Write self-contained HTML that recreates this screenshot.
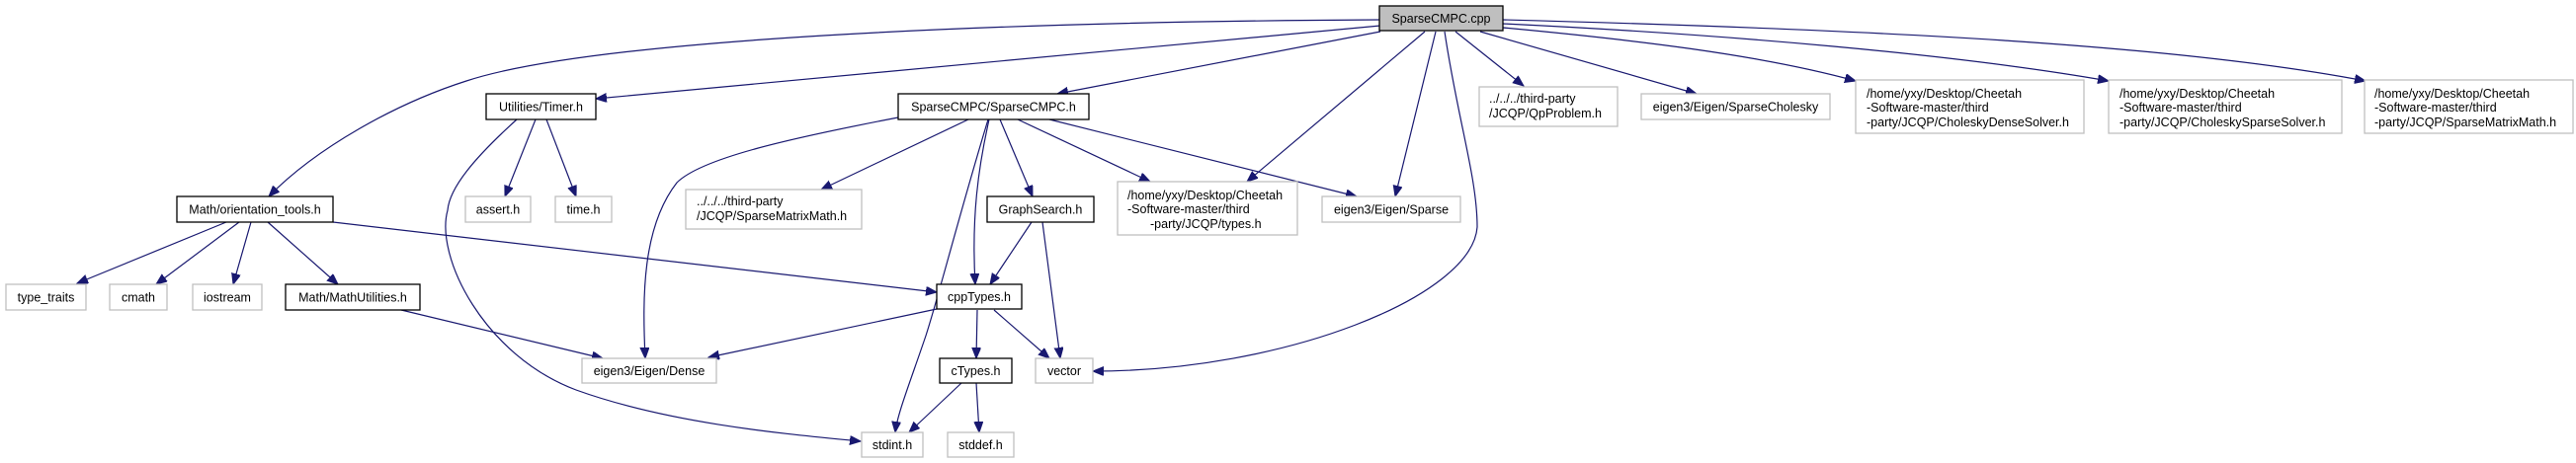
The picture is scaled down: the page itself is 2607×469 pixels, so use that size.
<!DOCTYPE html>
<html><head><meta charset="utf-8"><style>
html,body{margin:0;padding:0;background:#fff;}
svg{display:block;}
text{font-family:"Liberation Sans",sans-serif;font-size:12.5px;fill:#000;}
.g{fill:#fff;stroke:#bfbfbf;stroke-width:1.3;}
.b{fill:#fff;stroke:#000;stroke-width:1.3;}
.e{fill:none;stroke:#191970;stroke-width:1.2;}
</style></head><body>
<svg width="2607" height="469" viewBox="0 0 2607 469" xmlns="http://www.w3.org/2000/svg">
<defs><marker id="a" markerUnits="userSpaceOnUse" markerWidth="12" markerHeight="10" refX="11" refY="4.5" orient="auto"><path d="M0,0 L11,4.5 L0,9 Z" fill="#191970" stroke="#191970"/></marker></defs>
<g marker-end="url(#a)">
<path class="e" d="M1397,20 C1000,22 600,40 472,82 C400,105 320,150 272,199"/>
<path class="e" d="M1397,26 L603,100"/>
<path class="e" d="M1397,32 L1070,95"/>
<path class="e" d="M1442,32 L1262,184"/>
<path class="e" d="M1453,32 L1412,199"/>
<path class="e" d="M1462,32 C1475,120 1495,180 1495,230 C1490,300 1300,376 1106,376"/>
<path class="e" d="M1473,32 L1542,87"/>
<path class="e" d="M1498,32 L1717,95"/>
<path class="e" d="M1521,28 C1650,40 1780,55 1878,82"/>
<path class="e" d="M1521,24 C1750,35 1980,55 2134,82"/>
<path class="e" d="M1521,20 C1900,30 2200,45 2394,82"/>
<path class="e" d="M909,119 C800,140 710,160 685,185 C650,230 650,300 653,363"/>
<path class="e" d="M980,121 L831,192"/>
<path class="e" d="M1000,121 C970,220 950,300 937,340 C920,390 908,420 906,438"/>
<path class="e" d="M1001,121 C990,170 983,220 987,288"/>
<path class="e" d="M1012,121 L1045,199"/>
<path class="e" d="M1030,121 L1164,184"/>
<path class="e" d="M1062,121 L1373,199"/>
<path class="e" d="M1044,225 L1002,288"/>
<path class="e" d="M1055,225 L1073,363"/>
<path class="e" d="M948,313 L717,362"/>
<path class="e" d="M989,314 L988,363"/>
<path class="e" d="M1006,314 L1062,363"/>
<path class="e" d="M973,388 L920,438"/>
<path class="e" d="M988,388 L991,438"/>
<path class="e" d="M542,121 L511,199"/>
<path class="e" d="M553,121 L583,199"/>
<path class="e" d="M523,121 C480,160 455,190 453,213 C440,260 490,360 583,395 C680,430 800,440 871,447"/>
<path class="e" d="M229,225 L78,287"/>
<path class="e" d="M242,225 L158,288"/>
<path class="e" d="M254,225 L236,288"/>
<path class="e" d="M271,225 L342,288"/>
<path class="e" d="M337,225 L948,296"/>
<path class="e" d="M406,314 L610,363"/>
</g>
<rect x="1396" y="6" width="125" height="25" fill="#bfbfbf" stroke="#000" stroke-width="1.3"/>
<text x="1458.5" y="23" text-anchor="middle">SparseCMPC.cpp</text>
<rect class="b" x="492" y="95" width="111" height="26"/><text x="547.5" y="112.5" text-anchor="middle">Utilities/Timer.h</text>
<rect class="b" x="179" y="199" width="158" height="26"/><text x="258" y="216.5" text-anchor="middle">Math/orientation_tools.h</text>
<rect class="g" x="6" y="288" width="81" height="26"/><text x="46.5" y="305.5" text-anchor="middle">type_traits</text>
<rect class="g" x="111" y="288" width="58" height="26"/><text x="140" y="305.5" text-anchor="middle">cmath</text>
<rect class="g" x="195" y="288" width="70" height="26"/><text x="230" y="305.5" text-anchor="middle">iostream</text>
<rect class="b" x="289" y="288" width="136" height="26"/><text x="357" y="305.5" text-anchor="middle">Math/MathUtilities.h</text>
<rect class="g" x="471" y="199" width="66" height="26"/><text x="504" y="216.5" text-anchor="middle">assert.h</text>
<rect class="g" x="562" y="199" width="57" height="26"/><text x="590.5" y="216.5" text-anchor="middle">time.h</text>
<rect class="g" x="694" y="192" width="178" height="40"/><text x="705" y="208">../../../third-party</text><text x="705" y="223">/JCQP/SparseMatrixMath.h</text>
<rect class="g" x="589" y="363" width="136" height="25"/><text x="657" y="380" text-anchor="middle">eigen3/Eigen/Dense</text>
<rect class="b" x="909" y="95" width="193" height="26"/><text x="1005.5" y="112.5" text-anchor="middle">SparseCMPC/SparseCMPC.h</text>
<rect class="g" x="1497" y="88" width="140" height="40"/><text x="1507" y="104">../../../third-party</text><text x="1507" y="119">/JCQP/QpProblem.h</text>
<rect class="g" x="1661" y="95" width="191" height="26"/><text x="1756.5" y="112.5" text-anchor="middle">eigen3/Eigen/SparseCholesky</text>
<rect class="b" x="999" y="199" width="108" height="26"/><text x="1053" y="216.5" text-anchor="middle">GraphSearch.h</text>
<rect class="g" x="1131" y="184" width="182" height="54"/><text x="1141" y="202">/home/yxy/Desktop/Cheetah</text><text x="1141" y="216">-Software-master/third</text><text x="1164" y="231">-party/JCQP/types.h</text>
<rect class="g" x="1338" y="199" width="140" height="26"/><text x="1408" y="216.5" text-anchor="middle">eigen3/Eigen/Sparse</text>
<rect class="b" x="948" y="288" width="86" height="25"/><text x="991" y="305" text-anchor="middle">cppTypes.h</text>
<rect class="b" x="951" y="363" width="73" height="25"/><text x="987.5" y="380" text-anchor="middle">cTypes.h</text>
<rect class="g" x="1048" y="363" width="58" height="25"/><text x="1077" y="380" text-anchor="middle">vector</text>
<rect class="g" x="872" y="438" width="62" height="25"/><text x="903" y="455" text-anchor="middle">stdint.h</text>
<rect class="g" x="959" y="438" width="67" height="25"/><text x="992.5" y="455" text-anchor="middle">stddef.h</text>
<rect class="g" x="1878" y="81" width="231" height="54"/><text x="1889" y="99">/home/yxy/Desktop/Cheetah</text><text x="1889" y="113">-Software-master/third</text><text x="1889" y="128">-party/JCQP/CholeskyDenseSolver.h</text>
<rect class="g" x="2134" y="81" width="236" height="54"/><text x="2145" y="99">/home/yxy/Desktop/Cheetah</text><text x="2145" y="113">-Software-master/third</text><text x="2145" y="128">-party/JCQP/CholeskySparseSolver.h</text>
<rect class="g" x="2393" y="81" width="211" height="54"/><text x="2403" y="99">/home/yxy/Desktop/Cheetah</text><text x="2403" y="113">-Software-master/third</text><text x="2403" y="128">-party/JCQP/SparseMatrixMath.h</text>
</svg>
</body></html>
